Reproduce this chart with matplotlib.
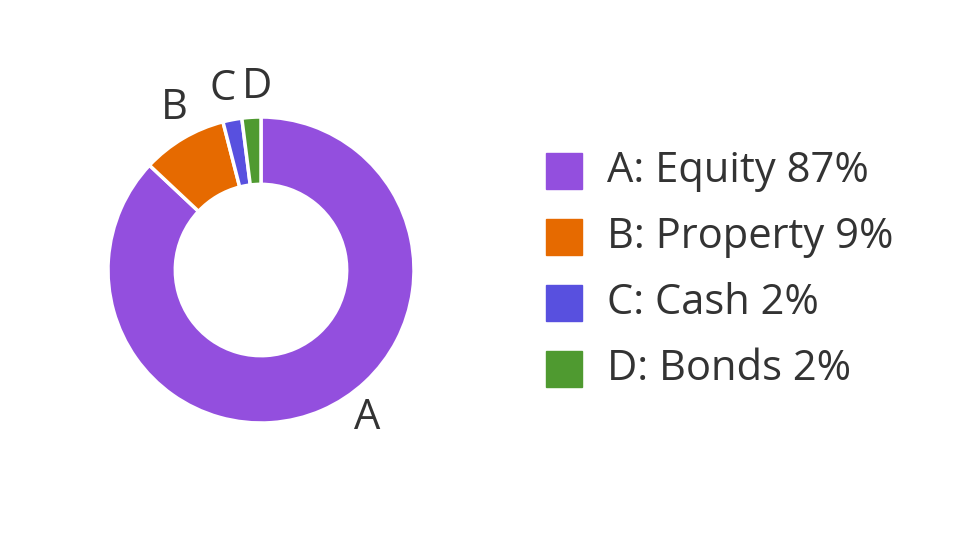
import numpy as np
import matplotlib
matplotlib.use("Agg")
import matplotlib.pyplot as plt
from matplotlib.patches import Rectangle

labels = ["A", "B", "C", "D"]
names = ["Equity", "Property", "Cash", "Bonds"]
values = [87, 9, 2, 2]
colors = ["#934FDE", "#E66A00", "#5850DF", "#4F9A30"]

plt.rcParams['font.family'] = ['Open Sans', 'DejaVu Sans']
TXT = "#333333"
FS = 30

fig = plt.figure(figsize=(9.6, 5.4), dpi=100)
# pie axes: centre at (261,270) px, radius 1 -> 153 px
side = 400
ax = fig.add_axes([(261 - side / 2) / 960, (540 - 270 - side / 2) / 540, side / 960, side / 540])

wedges, _ = ax.pie(values, colors=colors, startangle=90, counterclock=False,
                   radius=1.0, wedgeprops=dict(width=0.44, edgecolor='white', linewidth=2.5))
lim = side / 2 / 153
ax.set_xlim(-lim, lim)
ax.set_ylim(-lim, lim)
ax.set_aspect('equal')
ax.axis('off')

# small pixel nudges for the outside labels
nudges = [(34, 19), (6, 5), (-4, 2), (7, 1)]
total = sum(values)
start = 90.0
dist = 1.19
for lab, v, nd in zip(labels, values, nudges):
    ang = start - v / total * 360 / 2
    start -= v / total * 360
    a = np.deg2rad(ang)
    x, y = dist * np.cos(a), dist * np.sin(a)
    ax.annotate(lab, xy=(x, y), xytext=nd, textcoords='offset pixels',
                ha='center', va='center', fontsize=FS, color=TXT)

# legend
lax = fig.add_axes([0, 0, 1, 1])
lax.set_xlim(0, 960)
lax.set_ylim(540, 0)
lax.axis('off')
row0, step = 171, 66
for i, (lab, nm, v, c) in enumerate(zip(labels, names, values, colors)):
    yc = row0 + i * step
    lax.add_patch(Rectangle((546, yc - 18), 36, 36, color=c))
    lax.text(607, yc, f"{lab}: {nm} {v}%", ha='left', va='center', fontsize=FS, color=TXT)

fig.savefig("out.png", dpi=100)
